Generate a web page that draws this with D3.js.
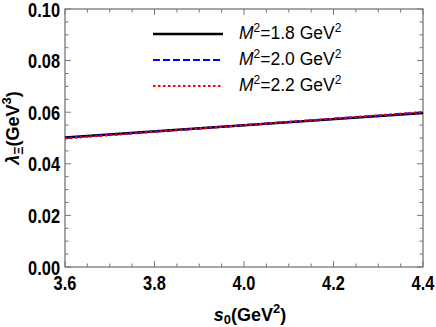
<!DOCTYPE html>
<html>
<head>
<meta charset="utf-8">
<script src="https://cdn.jsdelivr.net/npm/d3@7"></script>
<style>
  body { margin: 0; background: #fff; }
  svg { display: block; }
  .tick-label { font-family: "Liberation Sans", Arial, sans-serif; font-weight: bold; font-size: 20px; }
</style>
</head>
<body>
<div id="chart"></div>
<script>
// s0 values (GeV^2)
var s0 = [3.6, 4.4];
// lambda values for each M^2 curve
var lam18 = [0.0502, 0.0597];
var lam20 = [0.0500, 0.0599];
var lam22 = [0.0498, 0.0601];
var seriesNames = ["1.8", "2.0", "2.2"];
var xTicks = [3.6, 3.8, 4.0, 4.2, 4.4];
var yTicks = [0.00, 0.02, 0.04, 0.06, 0.08, 0.10];

var width = 436, height = 327;
var margin = {left: 65, right: 13, top: 9, bottom: 60};

var svg = d3.select("#chart").append("svg")
  .attr("width", width)
  .attr("height", height);

var x = d3.scaleLinear().domain([3.6, 4.4]).range([margin.left, width - margin.right]);
var y = d3.scaleLinear().domain([0, 0.1]).range([height - margin.bottom, margin.top]);

var frameColor = "#777";

// minor ticks on all sides
var xMinor = d3.range(3.6, 4.4001, 0.05);
var yMinor = d3.range(0, 0.10001, 0.005);

var ticks = svg.append("g").attr("stroke", frameColor).attr("stroke-width", 1);
xMinor.forEach(function(v, i) {
  var len = (i % 4 == 0) ? 6 : 3.5;
  ticks.append("line").attr("x1", x(v)).attr("x2", x(v)).attr("y1", y(0)).attr("y2", y(0) - len);
  ticks.append("line").attr("x1", x(v)).attr("x2", x(v)).attr("y1", y(0.1)).attr("y2", y(0.1) + len);
});
yMinor.forEach(function(v, i) {
  var len = (i % 4 == 0) ? 6 : 3.5;
  ticks.append("line").attr("y1", y(v)).attr("y2", y(v)).attr("x1", x(3.6)).attr("x2", x(3.6) + len);
  ticks.append("line").attr("y1", y(v)).attr("y2", y(v)).attr("x1", x(4.4)).attr("x2", x(4.4) - len);
});

svg.append("rect")
  .attr("x", x(3.6)).attr("y", y(0.1))
  .attr("width", x(4.4) - x(3.6)).attr("height", y(0) - y(0.1))
  .attr("fill", "none").attr("stroke", frameColor).attr("stroke-width", 1.3);

// tick labels (condensed bold)
svg.selectAll(".xl").data(xTicks).enter().append("text")
  .attr("class", "tick-label")
  .attr("transform", function(d) { return "translate(" + x(d) + "," + (y(0) + 23) + ") scale(0.82,1)"; })
  .attr("text-anchor", "middle")
  .text(function(d) { return d.toFixed(1); });

svg.selectAll(".yl").data(yTicks).enter().append("text")
  .attr("class", "tick-label")
  .attr("transform", function(d) { return "translate(" + (x(3.6) - 5) + "," + (y(d) + 7.5) + ") scale(0.82,1)"; })
  .attr("text-anchor", "end")
  .text(function(d) { return d.toFixed(2); });

// curves
var line = d3.line()
  .x(function(d, i) { return x(s0[i]); })
  .y(function(d) { return y(d); });

var styles = [
  {data: lam18, color: "#000", dash: null, w: 2.5},
  {data: lam20, color: "#0000ff", dash: "7,3", w: 2},
  {data: lam22, color: "#ff0000", dash: "2.5,2.5", w: 2}
];

styles.forEach(function(s) {
  svg.append("path")
    .attr("d", line(s.data))
    .attr("fill", "none")
    .attr("stroke", s.color)
    .attr("stroke-width", s.w)
    .attr("stroke-dasharray", s.dash);
});

// legend
var legend = svg.selectAll(".legend").data(styles).enter().append("g")
  .attr("class", "legend")
  .attr("transform", function(d, i) { return "translate(153," + (34 + i * 26) + ")"; });

legend.append("line")
  .attr("x1", 0).attr("x2", 70).attr("y1", 0).attr("y2", 0)
  .attr("stroke", function(d) { return d.color; })
  .attr("stroke-width", function(d) { return d.w; })
  .attr("stroke-dasharray", function(d) { return d.dash; });

var lt = legend.append("text")
  .attr("x", 86).attr("y", 5)
  .style("font-family", "'Liberation Sans', Arial, sans-serif")
  .style("font-size", "17.5px");
lt.append("tspan").style("font-style", "italic").text("M");
lt.append("tspan").attr("dy", -7).style("font-size", "12px").text("2");
lt.append("tspan").attr("dy", 7).text(function(d, i) { return "=" + seriesNames[i] + " GeV"; });
lt.append("tspan").attr("dy", -7).style("font-size", "12px").text("2");

// axis titles
var xt = svg.append("text")
  .attr("x", 250).attr("y", 321)
  .attr("text-anchor", "middle")
  .style("font-family", "'Liberation Sans', Arial, sans-serif")
  .style("font-weight", "bold")
  .style("font-size", "18px");
xt.append("tspan").style("font-style", "italic").text("s");
xt.append("tspan").attr("dy", 3).style("font-size", "13px").text("0");
xt.append("tspan").attr("dy", -3).text("(GeV");
xt.append("tspan").attr("dy", -8).style("font-size", "13px").text("2");
xt.append("tspan").attr("dy", 8).text(")");

var yt = svg.append("text")
  .attr("transform", "translate(19,128) rotate(-90)")
  .attr("text-anchor", "middle")
  .style("font-family", "'Liberation Sans', Arial, sans-serif")
  .style("font-weight", "bold")
  .style("font-size", "18px");
yt.append("tspan").style("font-style", "italic").text("λ");
yt.append("tspan").attr("dy", 4).style("font-size", "13px").text("Ξ");
yt.append("tspan").attr("dy", -4).text("(GeV");
yt.append("tspan").attr("dy", -8).style("font-size", "13px").text("3");
yt.append("tspan").attr("dy", 8).text(")");
</script>
</body>
</html>
